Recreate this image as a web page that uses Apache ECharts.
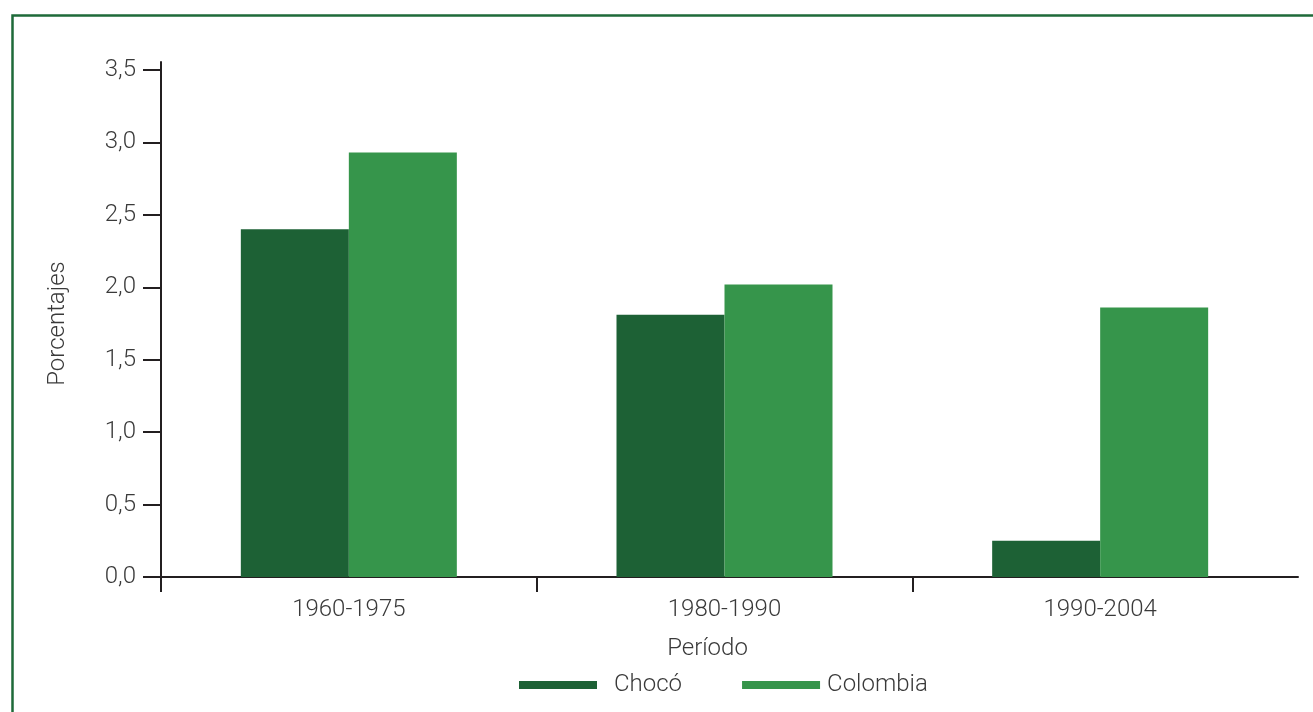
<!DOCTYPE html>
<html>
<head>
<meta charset="utf-8">
<script src="https://cdn.jsdelivr.net/npm/echarts@6/dist/echarts.min.js"></script>
<style>
html,body{margin:0;padding:0;background:#fff;}
#chart{width:1313px;height:712px;}
</style>
</head>
<body>
<div id="chart"></div>
<script>
const categories = ['1960-1975', '1980-1990', '1990-2004'];
const seriesNames = ['Chocó', 'Colombia'];
const chocoValues = [2.4, 1.81, 0.25];
const colombiaValues = [2.93, 2.02, 1.86];
const yTicks = [0, 0.5, 1.0, 1.5, 2.0, 2.5, 3.0, 3.5];

const DARK = '#1d6135';
const LIGHT = '#36954b';
const AXIS = '#231f20';
const TEXT = '#3a3a3a';
const FONT = 'Roboto';

const W = 1313, H = 712;
const gridA = {left: 161, right: 25, top: 70, bottom: 135};
const gridB = {left: 161, right: 15, top: 62, bottom: 135};
const plotA = W - gridA.left - gridA.right;
const plotB = W - gridB.left - gridB.right;

const chart = echarts.init(document.getElementById('chart'), null, {renderer: 'canvas'});
const txt = {fontFamily: FONT, fontWeight: 300, fontSize: 24, color: TEXT};

chart.setOption({
  animation: false,
  backgroundColor: '#fff',
  graphic: [{
    type: 'rect', left: 10, top: 13, z: 100, silent: true,
    shape: {width: 1400, height: 800},
    style: {fill: null, stroke: '#1e6a39', lineWidth: 2.5}
  }],
  grid: [
    {left: gridA.left, right: gridA.right, top: gridA.top, bottom: gridA.bottom},
    {left: gridB.left, right: gridB.right, top: gridB.top, bottom: gridB.bottom}
  ],
  legend: {
    left: 514, top: 668,
    icon: 'rect', itemWidth: 78, itemHeight: 8, itemGap: 60,
    textStyle: Object.assign({}, txt),
    data: [
      {name: seriesNames[0], textStyle: {padding: [0, 0, 0, 12]}},
      {name: seriesNames[1], textStyle: {padding: [0, 0, 0, 2]}}
    ]
  },
  xAxis: [
    {
      type: 'category', gridIndex: 0, data: categories,
      name: 'Período', nameLocation: 'middle', nameGap: 60,
      nameTextStyle: Object.assign({}, txt, {padding: [0, 34, 0, 0]}),
      axisLine: {show: true, lineStyle: {color: AXIS, width: 2}},
      axisTick: {show: false},
      axisLabel: Object.assign({}, txt, {margin: 21})
    },
    {
      type: 'value', gridIndex: 1, min: 0, max: categories.length * plotB / plotA,
      axisLine: {show: true, onZero: false, lineStyle: {color: AXIS, width: 2}},
      axisTick: {show: true, inside: false, length: 15, lineStyle: {color: AXIS, width: 2},
        customValues: categories.map((c, i) => i)},
      axisLabel: {show: false},
      splitLine: {show: false}
    }
  ],
  yAxis: [
    {
      type: 'value', gridIndex: 0, min: 0, max: 3.5, interval: 0.5,
      name: 'Porcentajes', nameLocation: 'middle', nameGap: 91,
      nameTextStyle: Object.assign({}, txt),
      axisLine: {show: true, lineStyle: {color: AXIS, width: 2}},
      axisTick: {show: true, length: 18, lineStyle: {color: AXIS, width: 2}},
      axisLabel: Object.assign({}, txt, {margin: 25,
        formatter: v => yTicks.indexOf(v) >= 0 ? v.toFixed(1).replace('.', ',') : ''}),
      splitLine: {show: false}
    },
    {
      type: 'value', gridIndex: 1, min: 0, max: 1,
      axisLine: {show: true, onZero: false, lineStyle: {color: AXIS, width: 2}},
      axisTick: {show: false}, axisLabel: {show: false}, splitLine: {show: false}
    }
  ],
  series: [
    {
      name: seriesNames[0], type: 'bar', xAxisIndex: 0, yAxisIndex: 0,
      data: chocoValues, barWidth: 108, barGap: '0%',
      itemStyle: {color: DARK}
    },
    {
      name: seriesNames[1], type: 'bar', xAxisIndex: 0, yAxisIndex: 0,
      data: colombiaValues, barWidth: 108, barGap: '0%',
      itemStyle: {color: LIGHT}
    }
  ]
});
</script>
</body>
</html>
